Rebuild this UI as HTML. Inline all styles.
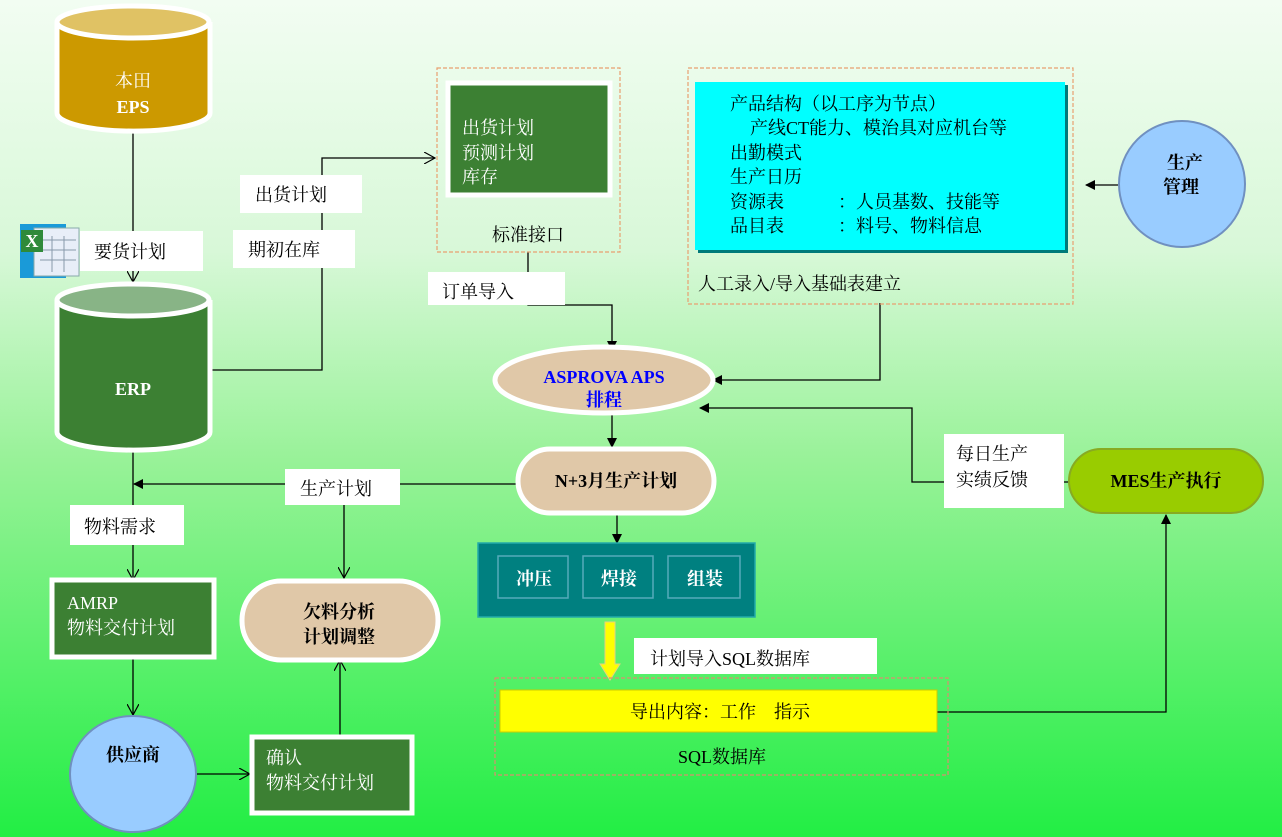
<!DOCTYPE html>
<html><head><meta charset="utf-8"><style>
html,body{margin:0;padding:0;width:1282px;height:837px;overflow:hidden}
svg{display:block}
text{font-family:"Liberation Serif","Noto Serif CJK SC",serif;font-size:18px}
</style></head><body>
<svg width="1282" height="837" viewBox="0 0 1282 837" xmlns="http://www.w3.org/2000/svg">
<defs>
<linearGradient id="bg" x1="0" y1="0" x2="0" y2="1">
<stop offset="0" stop-color="#f2fdf2"/><stop offset="0.3" stop-color="#d8f8d8"/>
<stop offset="0.55" stop-color="#98f298"/><stop offset="1" stop-color="#22ee44"/></linearGradient>
<marker id="fa" markerWidth="10" markerHeight="10" refX="9" refY="5" orient="auto" markerUnits="userSpaceOnUse"><path d="M0,0 L10,5 L0,10z" fill="#000"/></marker>
<marker id="oa" markerWidth="12" markerHeight="12" refX="11" refY="6" orient="auto" markerUnits="userSpaceOnUse"><path d="M0,0 L11,6 L0,12" fill="none" stroke="#000" stroke-width="1.2"/></marker>
</defs>
<rect width="1282" height="837" fill="url(#bg)"/>

<g stroke="#000" stroke-width="1.3" fill="none">
<path d="M133 133 V282" marker-end="url(#oa)"/>
<path d="M210 370 H322 V158 H435" marker-end="url(#oa)"/>
<path d="M528 252 V305 H612 V350" marker-end="url(#fa)"/>
<path d="M1118 185 H1086" marker-end="url(#fa)"/>
<path d="M880 303 V380 H713" marker-end="url(#fa)"/>
<path d="M612 413 V447" marker-end="url(#fa)"/>
<path d="M517 484 H134" marker-end="url(#fa)"/>
<path d="M344 505 V578" marker-end="url(#oa)"/>
<path d="M1070 482 H912 V408 H700" marker-end="url(#fa)"/>
<path d="M617 514 V543" marker-end="url(#fa)"/>
<path d="M937 712 H1166 V515" marker-end="url(#fa)"/>
<path d="M133 452 V580" marker-end="url(#oa)"/>
<path d="M133 658 V715" marker-end="url(#oa)"/>
<path d="M197 774 H250" marker-end="url(#oa)"/>
<path d="M340 735 V660" marker-end="url(#oa)"/>
</g>

<path d="M57 22 V113 A76 18 0 0 0 210 113 V22" fill="#cc9900" stroke="#fff" stroke-width="5"/>
<ellipse cx="133" cy="22" rx="76" ry="16" fill="#e0c264" stroke="#fff" stroke-width="5"/>
<text x="133" y="87" fill="#fff" text-anchor="middle">本田</text>
<text x="133" y="113" fill="#fff" text-anchor="middle" font-weight="bold">EPS</text>

<rect x="20" y="224" width="46" height="54" fill="#1a9ad8"/>
<rect x="34" y="228" width="45" height="48" fill="#e8eef8" stroke="#8aa" stroke-width="1"/>
<g stroke="#89a" stroke-width="1"><path d="M40 240 H76 M40 250 H76 M40 260 H76 M52 236 V272 M64 236 V272"/></g>
<rect x="21" y="230" width="22" height="22" fill="#2f8a3a"/>
<text x="32" y="247" fill="#fff" font-size="15" text-anchor="middle" font-weight="bold">X</text>

<path d="M57 300 V432 A76 18 0 0 0 210 432 V300" fill="#3c8033" stroke="#fff" stroke-width="5"/>
<ellipse cx="133" cy="300" rx="76" ry="16" fill="#88b486" stroke="#fff" stroke-width="5"/>
<text x="133" y="395" fill="#fff" text-anchor="middle" font-weight="bold">ERP</text>

<g fill="#fff">
<rect x="80" y="231" width="123" height="40"/>
<rect x="240" y="175" width="122" height="38"/>
<rect x="233" y="230" width="122" height="38"/>
<rect x="428" y="272" width="137" height="33"/>
<rect x="285" y="469" width="115" height="36"/>
<rect x="70" y="505" width="114" height="40"/>
<rect x="944" y="434" width="120" height="74"/>
<rect x="634" y="638" width="243" height="36"/>
</g>
<text x="94" y="258">要货计划</text>
<text x="255" y="201">出货计划</text>
<text x="248" y="256">期初在库</text>
<text x="442" y="298">订单导入</text>
<text x="300" y="495">生产计划</text>
<text x="84" y="533">物料需求</text>
<text x="956" y="460">每日生产</text>
<text x="956" y="486">实绩反馈</text>
<text x="650" y="665">计划导入SQL数据库</text>

<rect x="437" y="68" width="183" height="184" fill="none" stroke="#e8a070" stroke-width="1.2" stroke-dasharray="4 2"/>
<rect x="448" y="83" width="162" height="112" fill="#3c8033" stroke="#fff" stroke-width="5"/>
<text x="462" y="134" fill="#fff">出货计划</text>
<text x="462" y="159" fill="#fff">预测计划</text>
<text x="462" y="183" fill="#fff">库存</text>
<text x="528" y="241" text-anchor="middle">标准接口</text>

<rect x="688" y="68" width="385" height="236" fill="none" stroke="#e8a070" stroke-width="1.2" stroke-dasharray="4 2"/>
<rect x="698" y="85" width="370" height="168" fill="#007a7a"/>
<rect x="695" y="82" width="370" height="168" fill="#00ffff"/>
<text x="730" y="110">产品结构（以工序为节点）</text>
<text x="750" y="134">产线CT能力、模治具对应机台等</text>
<text x="730" y="159">出勤模式</text>
<text x="730" y="183">生产日历</text>
<text x="730" y="208">资源表　　　：人员基数、技能等</text>
<text x="730" y="232">品目表　　　：料号、物料信息</text>
<text x="698" y="290">人工录入/导入基础表建立</text>

<circle cx="1182" cy="184" r="63" fill="#99ccff" stroke="#7090c0" stroke-width="2"/>
<text x="1185" y="169" text-anchor="middle" font-weight="bold">生产</text>
<text x="1181" y="193" text-anchor="middle" font-weight="bold">管理</text>

<ellipse cx="604" cy="380" rx="109" ry="33" fill="#e0c8a8" stroke="#fff" stroke-width="5"/>
<text x="604" y="383" text-anchor="middle" fill="#0000ff" font-weight="bold" font-size="17">ASPROVA APS</text>
<text x="604" y="406" text-anchor="middle" fill="#0000ff" font-weight="bold">排程</text>

<rect x="518" y="449" width="196" height="64" rx="32" fill="#e0c8a8" stroke="#fff" stroke-width="5"/>
<text x="616" y="487" text-anchor="middle" font-weight="bold">N+3月生产计划</text>

<rect x="1069" y="449" width="194" height="64" rx="32" fill="#99cc00" stroke="#88aa22" stroke-width="2"/>
<text x="1166" y="487" text-anchor="middle" font-weight="bold">MES生产执行</text>

<rect x="478" y="543" width="277" height="74" fill="#008080" stroke="#2aa" stroke-width="1.5"/>
<g fill="#008080" stroke="#5ab" stroke-width="1.5">
<rect x="498" y="556" width="70" height="42"/><rect x="583" y="556" width="70" height="42"/><rect x="668" y="556" width="72" height="42"/></g>
<text x="534" y="585" text-anchor="middle" fill="#fff" font-weight="bold">冲压</text>
<text x="619" y="585" text-anchor="middle" fill="#fff" font-weight="bold">焊接</text>
<text x="705" y="585" text-anchor="middle" fill="#fff" font-weight="bold">组装</text>

<path d="M605 622 H615 V664 H620 L610 680 L600 664 H605Z" fill="#ffff00" stroke="#e8d080" stroke-width="1"/>

<rect x="495" y="678" width="453" height="97" fill="none" stroke="#d89070" stroke-width="1.2" stroke-dasharray="4 2"/>
<rect x="500" y="690" width="437" height="42" fill="#ffff00" stroke="#cccc00" stroke-width="1"/>
<text x="720" y="718" text-anchor="middle">导出内容：工作　指示</text>
<text x="722" y="763" text-anchor="middle">SQL数据库</text>

<rect x="52" y="580" width="162" height="77" fill="#3c8033" stroke="#fff" stroke-width="5"/>
<text x="67" y="609" fill="#fff" font-size="17">AMRP</text>
<text x="67" y="634" fill="#fff">物料交付计划</text>

<rect x="242" y="581" width="196" height="79" rx="39" fill="#e0c8a8" stroke="#fff" stroke-width="5"/>
<text x="339" y="618" text-anchor="middle" font-weight="bold">欠料分析</text>
<text x="339" y="643" text-anchor="middle" font-weight="bold">计划调整</text>

<ellipse cx="133" cy="774" rx="63" ry="58" fill="#99ccff" stroke="#7090c0" stroke-width="2"/>
<text x="133" y="761" text-anchor="middle" font-weight="bold">供应商</text>

<rect x="252" y="737" width="160" height="76" fill="#3c8033" stroke="#fff" stroke-width="5"/>
<text x="266" y="764" fill="#fff">确认</text>
<text x="266" y="789" fill="#fff">物料交付计划</text>
</svg>
</body></html>
